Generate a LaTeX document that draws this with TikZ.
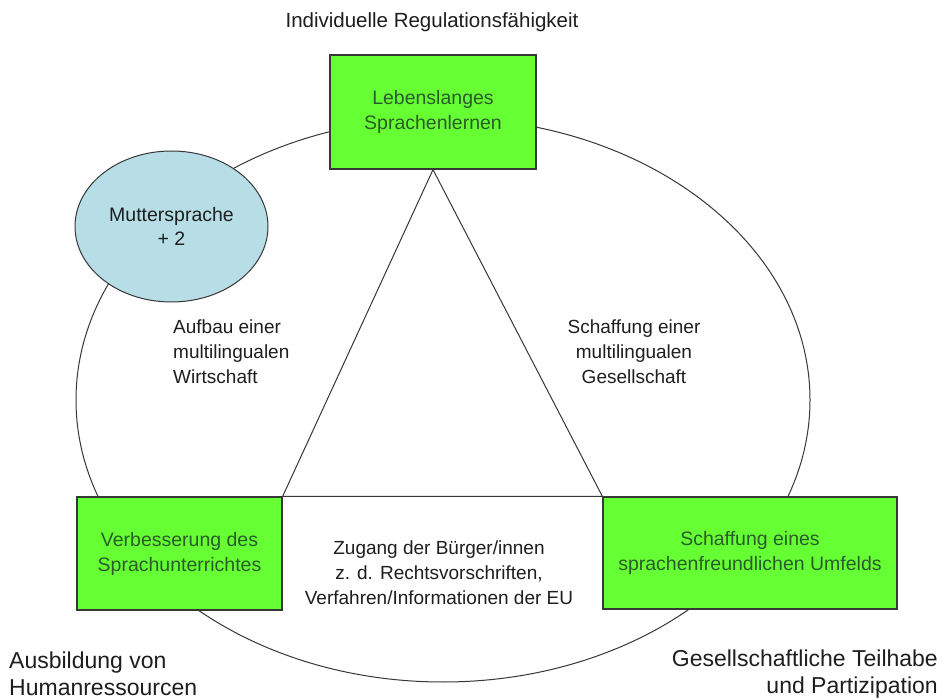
\documentclass[tikz,border=0pt]{standalone}
\usepackage{fontspec}
\setmainfont{Liberation Sans}
\usetikzlibrary{shapes.geometric}
\definecolor{boxgreen}{RGB}{102,255,51}
\definecolor{mblue}{RGB}{183,222,230}
\definecolor{gtext}{RGB}{42,92,42}
\definecolor{lineg}{RGB}{55,55,55}
\definecolor{txt}{RGB}{30,30,30}
\begin{document}
\begin{tikzpicture}[x=1pt,y=-1pt,
  greenbox/.style={draw=lineg, line width=1.3pt, fill=boxgreen, inner sep=0pt,
    text=gtext, align=center, font=\fontsize{19.5}{25}\selectfont},
  conn/.style={draw=lineg, line width=1pt},
  lbl/.style={text=txt, inner sep=0pt, font=\fontsize{19}{25}\selectfont},
  biglbl/.style={text=txt, inner sep=0pt, font=\fontsize{23}{26.5}\selectfont}
]
\useasboundingbox (0,0) rectangle (943,700);
\fill[white] (0,0) rectangle (943,700);

% big ring
\node[ellipse, draw=lineg, line width=1pt, inner sep=0pt,
      minimum width=734pt, minimum height=564pt] (ring) at (443,400) {};

% mother tongue ellipse
\node[ellipse, draw=lineg, line width=1pt, fill=mblue, inner sep=0pt,
      minimum width=193pt, minimum height=151pt, text=txt, align=center,
      font=\fontsize{19.5}{24}\selectfont] (mutter) at (171.5,226.5) {Muttersprache\\+ 2};

% boxes
\node[greenbox, minimum width=206pt, minimum height=114pt] (top) at (433,112)
  {Lebenslanges\\Sprachenlernen};
\node[greenbox, minimum width=205pt, minimum height=113pt] (left) at (179.5,553.5)
  {Verbesserung des\\Sprachunterrichtes};
\node[greenbox, minimum width=294pt, minimum height=112pt] (right) at (750,553)
  {Schaffung eines\\sprachenfreundlichen Umfelds};

% triangle
\draw[conn] (top.south) -- (left.north east) -- (right.north west) -- cycle;

% labels
\node[text=txt, inner sep=0pt, font=\fontsize{20.5}{25}\selectfont] (title) at (432,22)
  {Individuelle Regulationsfähigkeit};
\node[lbl, anchor=west, align=left] (aufbau) at (173,352)
  {Aufbau einer\\multilingualen\\Wirtschaft};
\node[lbl, align=center] (schaffung) at (634,352)
  {Schaffung einer\\multilingualen\\Gesellschaft};
\node[lbl, align=center] (zugang) at (439,573)
  {Zugang der Bürger/innen\\z. d. Rechtsvorschriften,\\Verfahren/Informationen der EU};
\node[biglbl, anchor=west, align=left] (ausb) at (9,674)
  {Ausbildung von\\Humanressourcen};
\node[biglbl, anchor=east, align=right] (gesell) at (938,674)
  {Gesellschaftliche Teilhabe\\und Partizipation};
\end{tikzpicture}
\end{document}
